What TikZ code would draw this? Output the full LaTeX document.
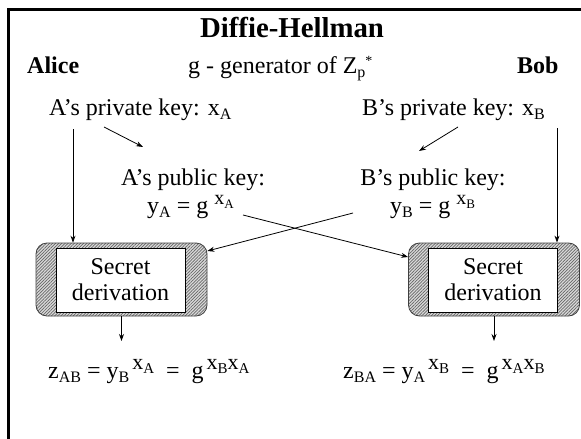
\documentclass[tikz,border=0pt]{standalone}
\usepackage{fontspec}
\setmainfont{Liberation Serif}
\usetikzlibrary{arrows.meta,patterns.meta}
% lowered index and raised exponent
\newcommand\lo[2][16]{\raisebox{-4pt}{\fontsize{#1}{#1}\selectfont #2}}
\newcommand\up[2][9pt]{\raisebox{#1}{#2}}
% exponent made of indexed x's (optional font size)
\newcommand\ex[2][20]{\up[9pt]{\fontsize{#1}{#1}\selectfont #2}}

\begin{document}
\begin{tikzpicture}[x=1pt,y=-1pt,
  txt/.style={inner sep=0pt, font=\fontsize{24}{26}\selectfont},
  ttl/.style={inner sep=0pt, font=\fontsize{28.8}{30}\selectfont\bfseries},
  who/.style={inner sep=0pt, font=\fontsize{24}{26}\selectfont\bfseries},
  conn/.style={line width=0.8pt, -{Stealth[length=7pt,width=5pt]}},
  shell/.style={rounded corners=11pt, draw=black!75, line width=0.8pt,
    minimum width=171pt, minimum height=73pt, inner sep=0pt,
    preaction={fill=gray!30},
    pattern={Lines[angle=45,distance=2.2pt,line width=0.7pt]}, pattern color=black!60},
  core/.style={draw, fill=white, line width=0.8pt, minimum width=129pt,
    minimum height=64pt, inner sep=0pt, align=center,
    font=\fontsize{24}{26}\selectfont},
  frame/.style={line width=3pt}
]
\useasboundingbox (0,0) rectangle (581,439);

% slide frame (top and left edges)
\draw[frame] (581,9.5) -- (8.3,9.5) -- (8.3,439);

% headings
\node[ttl, anchor=base] (title) at (292,37) {Diffie-Hellman};
\node[who, anchor=base west] (alice) at (27,73) {Alice};
\node[who, anchor=base west] (bob) at (517,73) {Bob};
\node[txt, anchor=base west] (gen) at (188,73)
  {g - generator of Z\lo{p}\up[8pt]{\fontsize{14}{14}\selectfont *}};

% keys
\node[txt, anchor=base west] (privA) at (49,115) {A’s private key: x\lo{A}};
\node[txt, anchor=base west] (privB) at (362,115) {B’s private key: x\lo{B}};
\node[txt, anchor=base] (pubA) at (193,185) {A’s public key:};
\node[txt, anchor=base west] (yA) at (147,213)
  {y\lo{A} = g \ex{x\lo[13]{A}}};
\node[txt, anchor=base] (pubB) at (433,185) {B’s public key:};
\node[txt, anchor=base west] (yB) at (390,213)
  {y\lo{B} = g \ex{x\lo[13]{B}}};

% secret derivation boxes
\node[shell] (shA) at (121.5,279.5) {};
\node[core] (coreA) at (120.5,280) {Secret\\derivation};
\node[shell] (shB) at (494,279.5) {};
\node[core] (coreB) at (493,280) {Secret\\derivation};

% shared secrets
\node[txt, anchor=base west] (zAB) at (48,378)
  {z\lo{AB} = y\lo{B}\kern3pt\ex[22]{x\lo[15]{A}}\ \ =\ \ g\kern3pt\ex[22]{x\lo[15]{B}x\lo[15]{A}}};
\node[txt, anchor=base west] (zBA) at (343,378)
  {z\lo{BA} = y\lo{A}\kern3pt\ex[22]{x\lo[15]{B}}\ \ =\ \ g\kern3pt\ex[22]{x\lo[15]{A}x\lo[15]{B}}};

% connector end points
\coordinate (aL) at (73,129);
\coordinate (bR) at (557,128);
\coordinate (a1) at (104,127);
\coordinate (a2) at (143,147);
\coordinate (b1) at (458,127);
\coordinate (b2) at (419,151);
\coordinate (xa) at (243,215);
\coordinate (xb) at (353,213);
\coordinate (ya) at (0,251);
\coordinate (yb) at (0,257);
\coordinate (zA) at (121.5,341);
\coordinate (zB) at (494,341);

% connectors
\draw[conn] (aL) -- (aL |- shA.north);
\draw[conn] (bR) -- (bR |- shB.north);
\draw[conn] (a1) -- (a2);
\draw[conn] (b1) -- (b2);
\draw[conn] (xa) -- (shB.west |- yb);
\draw[conn] (xb) -- (shA.east |- ya);
\draw[conn] (shA.south) -- (zA);
\draw[conn] (shB.south) -- (zB);
\end{tikzpicture}
\end{document}
